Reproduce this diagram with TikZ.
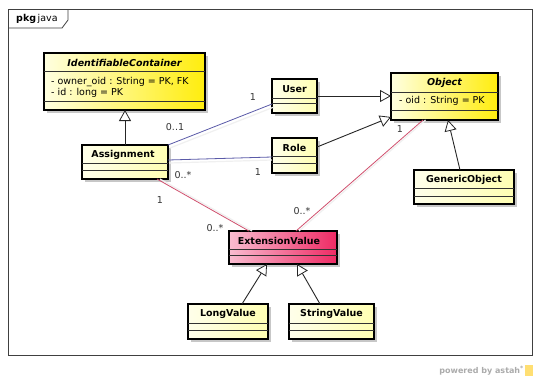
\documentclass[tikz,border=0pt]{standalone}
\usepackage{fontspec}
\setmainfont{DejaVu Sans}
\usetikzlibrary{arrows.meta,shadows}
\definecolor{assocblue}{HTML}{5A5AA8}
\definecolor{assocred}{HTML}{D0506E}
\definecolor{multgray}{HTML}{333333}
\newcommand\cmpline[2]{\draw[cmp] ([yshift=-#2pt]#1.north west) -- ([yshift=-#2pt]#1.north east);}
\begin{document}
\begin{tikzpicture}[x=1pt,y=-1pt,
  every node/.style={font=\fontsize{9.5}{11}\selectfont},
  cls/.style={draw=black, line width=1.4pt, inner sep=0pt, outer sep=0pt, anchor=north west,
    drop shadow={shadow xshift=3pt, shadow yshift=-3pt, fill=black, opacity=0.22}},
  bigyel/.style={cls, left color=yellow!12!white, right color=yellow!85!orange!95!white},
  smallyel/.style={cls, left color=yellow!8!white, right color=yellow!30!white},
  pinkcls/.style={cls, left color={rgb,255:red,249;green,188;blue,208}, right color={rgb,255:red,238;green,42;blue,100}},
  cmp/.style={line width=1pt, black!80},
  cname/.style={font=\fontsize{9.5}{11}\selectfont\bfseries, inner sep=0pt},
  aname/.style={font=\fontsize{9.5}{11}\selectfont\bfseries\itshape, inner sep=0pt},
  attr/.style={font=\fontsize{9.5}{11}\selectfont, inner sep=0pt, anchor=west},
  gen/.style={line width=0.9pt, black!85, -{Triangle[fill=white, length=11pt, width=12pt, line width=0.8pt]}},
  shad/.style={line width=1.2pt, black!6},
  ablue/.style={line width=0.8pt, assocblue},
  ared/.style={line width=0.8pt, assocred},
  mult/.style={font=\fontsize{9.5}{11}\selectfont, text=multgray, inner sep=0pt}
]
\useasboundingbox (0,0) rectangle (540,381);
\fill[white] (0,0) rectangle (540,381);

% package frame
\coordinate (fa) at (8,9);
\coordinate (fb) at (532,355);
\draw[line width=0.8pt, black!75] (fa) rectangle (fb);
\draw[line width=0.8pt, black!75] (8,28) -- (62,28) -- (68,20) -- (68,9);
\node[inner sep=0pt, anchor=west] (pkg) at (16,19) {\textbf{pkg}\,java};

% classes
\node[bigyel, minimum width=161pt, minimum height=57pt] (ic) at (44,53) {};
\cmpline{ic}{18}\cmpline{ic}{48}
\node[aname] (icn) at ([yshift=-9.5pt]ic.north) {IdentifiableContainer};
\node[attr] (ica1) at (51,82) {- owner\_oid : String = PK, FK};
\node[attr] (ica2) at (51,93) {- id : long = PK};

\node[smallyel, minimum width=86pt, minimum height=34pt] (assign) at (82,145) {};
\cmpline{assign}{18}\cmpline{assign}{25}
\node[cname] (assignn) at ([xshift=-2pt,yshift=-9.5pt]assign.north) {Assignment};

\node[smallyel, minimum width=45pt, minimum height=34pt] (user) at (272,79) {};
\cmpline{user}{19}\cmpline{user}{24}
\node[cname] (usern) at ([yshift=-10pt]user.north) {User};

\node[smallyel, minimum width=45pt, minimum height=35pt] (role) at (272,138) {};
\cmpline{role}{18}\cmpline{role}{25}
\node[cname] (rolen) at ([yshift=-9.5pt]role.north) {Role};

\node[bigyel, minimum width=107pt, minimum height=47pt] (object) at (391,73) {};
\cmpline{object}{19}\cmpline{object}{37}
\node[aname] (objectn) at ([yshift=-9.5pt]object.north) {Object};
\node[attr] (obja) at (399,101) {- oid : String = PK};

\node[smallyel, minimum width=100pt, minimum height=34pt] (generic) at (414,170) {};
\cmpline{generic}{18}\cmpline{generic}{26}
\node[cname] (genericn) at ([yshift=-9.5pt]generic.north) {GenericObject};

\node[pinkcls, minimum width=108pt, minimum height=33pt] (ext) at (229,231) {};
\cmpline{ext}{18}\cmpline{ext}{24}
\node[cname] (extn) at ([xshift=-4pt,yshift=-9.5pt]ext.north) {ExtensionValue};

\node[smallyel, minimum width=80pt, minimum height=35pt] (long) at (188,304) {};
\cmpline{long}{19}\cmpline{long}{26}
\node[cname] (longn) at ([yshift=-9.5pt]long.north) {LongValue};

\node[smallyel, minimum width=85pt, minimum height=35pt] (string) at (289,304) {};
\cmpline{string}{19}\cmpline{string}{26}
\node[cname] (stringn) at ([yshift=-9.5pt]string.north) {StringValue};

% association shadows
\draw[shad] ([xshift=2pt,yshift=-3pt]assign.north east) -- ([xshift=2pt,yshift=-11pt]user.west);
\draw[shad] ([xshift=1pt,yshift=-1pt]assign.east) -- ([yshift=-4.5pt]role.west);
\draw[shad] ([xshift=-8pt,yshift=0pt]assign.south east) -- ([xshift=23pt]ext.north west);
\draw[shad] ([xshift=-19pt,yshift=0pt]object.south) -- ([xshift=16pt]ext.north);

% associations
\draw[ablue] (assign.north east) -- ([yshift=-8pt]user.west);
\draw[ablue] ([yshift=2pt]assign.east) -- ([yshift=-1.5pt]role.west);
\draw[ared] ([xshift=-11pt]assign.south east) -- ([xshift=20pt]ext.north west);
\draw[ared] ([xshift=-21.5pt]object.south) -- ([xshift=13pt]ext.north);

% generalizations
\draw[gen] (assign.north) -- (assign.north |- ic.south);
\draw[gen] (user.east) -- (user.east -| object.west);
\draw[gen] ([yshift=8.5pt]role.east) -- ([yshift=3pt]object.south west);
\draw[gen] ([xshift=-4pt]generic.north) -- ([xshift=3.5pt]object.south);
\draw[gen] ([xshift=14pt]long.north) -- ([xshift=-16pt]ext.south);
\draw[gen] ([xshift=-11.5pt]string.north) -- ([xshift=14pt]ext.south);

% multiplicities
\node[mult] (m1) at (175,127) {0..1};
\node[mult] (m2) at (253,97) {1};
\node[mult] (m3) at (183,175) {0..*};
\node[mult] (m4) at (258,172) {1};
\node[mult] (m5) at (160,200) {1};
\node[mult] (m6) at (215,228) {0..*};
\node[mult] (m7) at (400,129) {1};
\node[mult] (m8) at (302,211) {0..*};

% footer
\node[inner sep=0pt, anchor=east, text=black!33, font=\fontsize{8}{9}\selectfont\bfseries] (pw) at (524,371) {powered by astah\textsuperscript{*}};
\fill[orange!45!yellow, opacity=0.55] (525,365) rectangle (533,376);
\end{tikzpicture}
\end{document}
